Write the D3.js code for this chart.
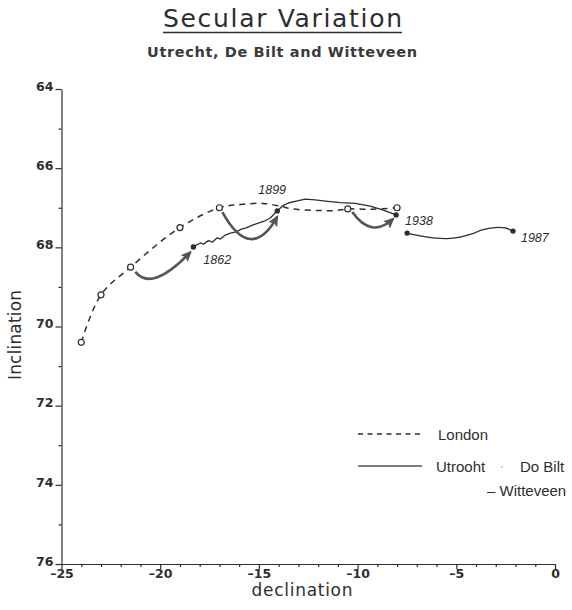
<!DOCTYPE html>
<html>
<head>
<meta charset="utf-8">
<script src="https://cdn.jsdelivr.net/npm/d3@7"></script>
<style>
  html, body { margin: 0; padding: 0; background: #fff; }
  svg { display: block; }
</style>
</head>
<body>
<script>
// ---------- data ----------
const yTicks = [64, 66, 68, 70, 72, 74, 76];
const yMinorTicks = [65, 67, 69, 71, 73, 75];
const xTicks = [-25, -20, -15, -10, -5, 0];
const xMinorTicks = d3.range(-24, 0).filter(v => v % 5 !== 0);

// London (dashed), observed points marked with open circles
const londonDecl = [-24, -23, -21.5, -19, -17, -15.94, -14.83, -13.92, -13.31, -11.99, -11.13, -10.5, -9.36, -8];
const londonIncl = [70.4, 69.2, 68.5, 67.5, 67.0, 66.92, 66.89, 66.96, 67.03, 67.07, 67.07, 67.03, 67.04, 67.0];
const londonObserved = [1, 1, 1, 1, 1, 0, 0, 0, 0, 0, 0, 1, 0, 1];

// Utrecht (solid) 1862 -> 1938
const utrechtDecl = [-18.32, -17.97, -17.81, -17.56, -17.36, -17.11, -16.95, -16.70, -16.45, -16.14, -15.89, -15.64, -15.33, -15.03, -14.73, -14.42, -14.07, -13.82, -13.51, -13.11, -12.65, -12.15, -11.64, -10.88, -10.12, -9.36, -8.70, -8.05];
const utrechtIncl = [67.99, 67.89, 67.92, 67.83, 67.87, 67.76, 67.79, 67.69, 67.64, 67.61, 67.54, 67.51, 67.44, 67.39, 67.34, 67.26, 67.08, 66.96, 66.88, 66.83, 66.78, 66.80, 66.83, 66.87, 66.89, 66.96, 67.06, 67.18];

// De Bilt / Witteveen (solid) -> 1987
const witteveenDecl = [-7.49, -6.83, -6.17, -5.47, -4.81, -4.20, -3.69, -3.04, -2.53, -2.13];
const witteveenIncl = [67.64, 67.71, 67.76, 67.78, 67.74, 67.66, 67.56, 67.50, 67.51, 67.59];

// dated points
const yearLabels = ["1862", "1899", "1938", "1987"];
const yearDecl = [-18.32, -14.07, -8.05, -2.13];
const yearIncl = [67.99, 67.08, 67.18, 67.59];
const extraDotDecl = [-7.49];
const extraDotIncl = [67.64];

// curved arrows: start, control, end (declination, inclination)
const arrowStart = [[-21.26, 68.62], [-16.85, 67.11], [-10.27, 67.11]];
const arrowCtrl  = [[-20.42, 69.14], [-15.41, 68.41], [-9.31, 67.79]];
const arrowEnd   = [[-18.47, 68.12], [-14.07, 67.23], [-8.20, 67.28]];

// ---------- drawing ----------
const W = 572, H = 610;
const ink = "#2e2e2e";
const svg = d3.select("body").append("svg").attr("width", W).attr("height", H);

const x = d3.scaleLinear().domain([-25, 0]).range([61.5, 555]);
const y = d3.scaleLinear().domain([64, 76]).range([89, 564]);

const defs = svg.append("defs");
defs.append("marker")
  .attr("id", "ah").attr("viewBox", "0 -5 11 10")
  .attr("refX", 9).attr("refY", 0)
  .attr("markerUnits", "userSpaceOnUse")
  .attr("markerWidth", 11).attr("markerHeight", 10)
  .attr("orient", "auto")
  .append("path").attr("d", "M0,-5L11,0L0,5L2,0Z").attr("fill", "#555");

// Titles
svg.append("text")
  .attr("x", 282.5).attr("y", 27).attr("text-anchor", "middle")
  .attr("font-family", "DejaVu Sans").attr("font-size", 25)
  .attr("textLength", 239).attr("lengthAdjust", "spacing")
  .attr("fill", ink).text("Secular Variation");
svg.append("line").attr("x1", 163).attr("x2", 402).attr("y1", 32.5).attr("y2", 32.5)
  .attr("stroke", ink).attr("stroke-width", 1.3);

svg.append("text")
  .attr("x", 282).attr("y", 57).attr("text-anchor", "middle")
  .attr("font-family", "DejaVu Sans").attr("font-weight", "bold").attr("font-size", 14.5)
  .attr("textLength", 270).attr("lengthAdjust", "spacing")
  .attr("fill", "#3a3a3a").text("Utrecht, De Bilt and Witteveen");

// Axes
const fmt = d => d < 0 ? "\u2013" + (-d) : String(d);

const gy = svg.append("g").attr("transform", "translate(61.5,0)")
  .call(d3.axisLeft(y).tickValues(yTicks).tickSize(6).tickSizeOuter(0).tickPadding(2).tickFormat(d => d));
gy.append("g").call(d3.axisLeft(y).tickValues(yMinorTicks).tickSize(3).tickFormat(""))
  .select(".domain").remove();

const gx = svg.append("g").attr("transform", "translate(0,564)")
  .call(d3.axisBottom(x).tickValues(xTicks).tickSize(5).tickSizeOuter(0).tickPadding(0).tickFormat(fmt));
gx.append("g").call(d3.axisBottom(x).tickValues(xMinorTicks).tickSize(3).tickFormat(""))
  .select(".domain").remove();

svg.selectAll(".domain, .tick line").attr("stroke", ink).attr("stroke-width", 1.2);
svg.selectAll(".tick text").attr("font-family", "DejaVu Sans").attr("font-weight", "bold")
  .attr("font-size", 12.5).attr("fill", ink);
gy.selectAll(".tick text").attr("dy", "0.1em");

// axis titles
svg.append("text")
  .attr("transform", "translate(21,335) rotate(-90)").attr("text-anchor", "middle")
  .attr("font-family", "DejaVu Sans").attr("font-size", 17)
  .attr("textLength", 90).attr("lengthAdjust", "spacing")
  .attr("fill", ink).text("Inclination");
svg.append("text")
  .attr("x", 302).attr("y", 596).attr("text-anchor", "middle")
  .attr("font-family", "DejaVu Sans").attr("font-size", 17)
  .attr("textLength", 101).attr("lengthAdjust", "spacing")
  .attr("fill", ink).text("declination");

// London curve
const londonPts = londonDecl.map((d, i) => [d, londonIncl[i], londonObserved[i]]);
svg.append("path").datum(londonPts)
  .attr("d", d3.line().x(d => x(d[0])).y(d => y(d[1])).curve(d3.curveCatmullRom.alpha(0.5)))
  .attr("fill", "none").attr("stroke", ink).attr("stroke-width", 1.5)
  .attr("stroke-dasharray", "6,5");

// Utrecht curve
const utrechtPts = utrechtDecl.map((d, i) => [d, utrechtIncl[i]]);
svg.append("path").datum(utrechtPts)
  .attr("d", d3.line().x(d => x(d[0])).y(d => y(d[1])))
  .attr("fill", "none").attr("stroke", ink).attr("stroke-width", 1.3).attr("stroke-linejoin", "round");

const wittPts = witteveenDecl.map((d, i) => [d, witteveenIncl[i]]);
svg.append("path").datum(wittPts)
  .attr("d", d3.line().x(d => x(d[0])).y(d => y(d[1])).curve(d3.curveCatmullRom))
  .attr("fill", "none").attr("stroke", ink).attr("stroke-width", 1.3);

// curved arrows
arrowStart.forEach((s, i) => {
  const c = arrowCtrl[i], e = arrowEnd[i];
  const p = d3.path();
  p.moveTo(x(s[0]), y(s[1]));
  p.quadraticCurveTo(x(c[0]), y(c[1]), x(e[0]), y(e[1]));
  svg.append("path").attr("d", p.toString())
    .attr("fill", "none").attr("stroke", "#555").attr("stroke-width", 2.6)
    .attr("marker-end", "url(#ah)");
});

// London open circles
svg.selectAll(".lc").data(londonPts.filter(d => d[2]))
  .enter().append("circle")
  .attr("cx", d => x(d[0])).attr("cy", d => y(d[1])).attr("r", 3)
  .attr("fill", "#fff").attr("stroke", ink).attr("stroke-width", 1.2);

// filled dots
const dots = yearDecl.map((d, i) => [d, yearIncl[i]]).concat(extraDotDecl.map((d, i) => [d, extraDotIncl[i]]));
svg.selectAll(".dot").data(dots).enter().append("circle")
  .attr("cx", d => x(d[0])).attr("cy", d => y(d[1])).attr("r", 2.7).attr("fill", ink);

// year labels
const labelOffsets = [[10, 17], [-19, -17], [9, 10], [8, 11]];
yearLabels.forEach((t, i) => {
  svg.append("text")
    .attr("x", x(yearDecl[i]) + labelOffsets[i][0])
    .attr("y", y(yearIncl[i]) + labelOffsets[i][1])
    .attr("font-family", "Liberation Sans").attr("font-style", "italic").attr("font-size", 12.5)
    .attr("fill", ink).text(t);
});

// legend
const lg = svg.append("g");
lg.append("line").attr("x1", 358).attr("x2", 422).attr("y1", 434).attr("y2", 434)
  .attr("stroke", ink).attr("stroke-width", 1.3).attr("stroke-dasharray", "5,4.5");
lg.append("text").attr("x", 438).attr("y", 440).attr("font-family", "Liberation Sans")
  .attr("font-size", 15).attr("fill", ink).text("London");
lg.append("line").attr("x1", 358).attr("x2", 422).attr("y1", 466).attr("y2", 466)
  .attr("stroke", "#555").attr("stroke-width", 1.3);
lg.append("text").attr("x", 436).attr("y", 472).attr("font-family", "Liberation Sans")
  .attr("font-size", 15).attr("fill", ink).text("Utrooht");
lg.append("circle").attr("cx", 502).attr("cy", 467).attr("r", 1).attr("fill", "#bbb");
lg.append("text").attr("x", 520).attr("y", 472).attr("font-family", "Liberation Sans")
  .attr("font-size", 15).attr("fill", ink).text("Do Bilt");
lg.append("text").attr("x", 487).attr("y", 496).attr("font-family", "Liberation Sans")
  .attr("font-size", 15).attr("fill", ink).text("\u2013 Witteveen");
</script>
</body>
</html>
